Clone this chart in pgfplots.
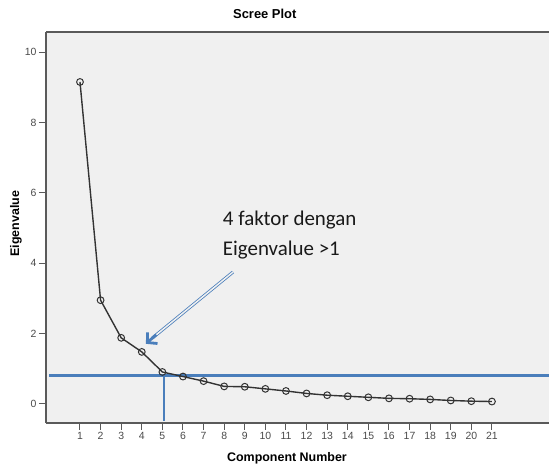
\documentclass[border=0pt]{standalone}
\usepackage{pgfplots}
\pgfplotsset{compat=1.18}
\usepackage{fontspec}
\setmainfont{Liberation Sans}
\newfontfamily\calibri{Carlito}
\usetikzlibrary{arrows.meta}
\definecolor{bgg}{HTML}{F0F0F0}
\definecolor{ann}{HTML}{4A7EBB}
\definecolor{frm}{HTML}{5A5A5A}
\definecolor{tick}{HTML}{4A4A4A}
\begin{document}
\begin{tikzpicture}
\useasboundingbox (0,0) rectangle (549bp,466bp);
\begin{axis}[
  at={(46bp,43bp)}, anchor=south west,
  scale only axis, width=503bp, height=391bp,
  xmin=-0.65, xmax=23.77, ymin=-0.54, ymax=10.57,
  axis x line*=bottom, axis y line*=left,
  axis line style={frm, line width=1.4pt},
  axis background/.style={fill=bgg},
  xtick={1,...,21}, ytick={0,2,...,10},
  tick align=outside, major tick length=7bp,
  tick style={frm, line width=1pt},
  /pgf/number format/assume math mode=true,
  ticklabel style={font=\fontsize{10.5}{11}\selectfont, text=tick},
  xticklabel style={yshift=1bp},
  yticklabel style={xshift=1bp},
  title={Scree Plot},
  title style={at={(axis description cs:0.435,1.018)}, anchor=base, font=\bfseries\fontsize{13}{15}\selectfont},
  xlabel={Component Number},
  xlabel style={at={(axis description cs:0.479,-0.0997)}, anchor=base, font=\bfseries\fontsize{12.5}{14}\selectfont},
  ylabel={Eigenvalue},
  ylabel style={at={(axis description cs:-0.0596,0.51)}, anchor=center, font=\bfseries\fontsize{12.5}{14}\selectfont},
]
\draw[frm, line width=1.4pt] (rel axis cs:0,1) -- (rel axis cs:1,1);
\addplot[ann, line width=2.2pt, no marks] coordinates {(-0.5,0.81) (23.77,0.81)};
\addplot[ann, line width=2.2pt, no marks] coordinates {(5.09,0.81) (5.09,-0.48)};
\addplot[black!80, line width=1.4pt, mark=o, mark size=3.4pt, mark options={line width=1pt, fill=none}] coordinates {
(1,9.15) (2,2.95) (3,1.88) (4,1.48) (5,0.91) (6,0.78) (7,0.65) (8,0.50) (9,0.49) (10,0.43)
(11,0.37) (12,0.30) (13,0.25) (14,0.22) (15,0.19) (16,0.16) (17,0.15) (18,0.13) (19,0.10) (20,0.08) (21,0.07)};
\draw[ann, line width=0.8pt, double=bgg, double distance=1.5pt, shorten >=3pt] (axis cs:8.43,3.75) -- (axis cs:4.4,1.82);
\draw[ann, line width=2.8pt, -{Straight Barb[length=7pt,width=15pt]}] (axis cs:4.7,1.97) -- (axis cs:4.2,1.71);
\node[anchor=base west, font=\calibri\fontsize{21}{30}\selectfont, text=black!90, inner sep=0pt] at (axis cs:7.93,5.085) {4 faktor dengan};
\node[anchor=base west, font=\calibri\fontsize{21}{30}\selectfont, text=black!90, inner sep=0pt] at (axis cs:7.93,4.23) {Eigenvalue >1};
\end{axis}
\end{tikzpicture}
\end{document}
